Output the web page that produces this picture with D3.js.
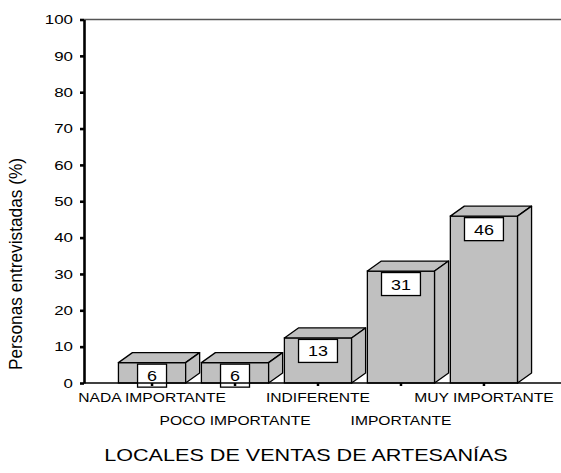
<!DOCTYPE html>
<html><head><meta charset="utf-8">
<script src="https://cdn.jsdelivr.net/npm/d3@7"></script>
<style>
body{margin:0;background:#fff}
svg{display:block}
text{font-family:"Liberation Sans",Arial,sans-serif;fill:#000}
</style>
</head><body>
<svg id="chart" width="561" height="473"></svg>
<script>
// ---- data ----
const categories = ["NADA IMPORTANTE", "POCO IMPORTANTE", "INDIFERENTE", "IMPORTANTE", "MUY IMPORTANTE"];
const values = [5.6, 5.6, 12.4, 30.8, 45.9];
const valueLabels = ["6", "6", "13", "31", "46"];
const yTicks = [0, 10, 20, 30, 40, 50, 60, 70, 80, 90, 100];
const yLabel = "Personas entrevistadas (%)";
const xTitle = "LOCALES DE VENTAS DE ARTESANÍAS";

// ---- layout ----
const W = 561, H = 473;
const mLeft = 84, mTop = 19.5, mBottom = 383;
const depthX = 14, depthY = 10;
const barFill = "#c0c0c0";

const svg = d3.select("#chart");

const x = d3.scaleBand().domain(categories).range([mLeft, 552]).paddingInner(0.19).paddingOuter(0.415);
const y = d3.scaleLinear().domain([0, 100]).range([mBottom, mTop]);

function stretch(sel, k) {
  sel.each(function () {
    const w = this.getComputedTextLength();
    d3.select(this).attr("textLength", w * k).attr("lengthAdjust", "spacingAndGlyphs");
  });
}

// top frame line
svg.append("line").attr("x1", mLeft).attr("x2", W).attr("y1", y(100)).attr("y2", y(100))
  .attr("stroke", "#555").attr("stroke-width", 1.6);

// bars (3D boxes)
const bars = svg.append("g").selectAll("g").data(categories.map((c, i) => ({c, v: values[i], lab: valueLabels[i]})))
  .join("g");

bars.each(function (d) {
  const g = d3.select(this);
  const x0 = x(d.c), x1 = x0 + x.bandwidth();
  const yt = y(d.v), y0 = y(0);
  g.append("rect").attr("x", x0).attr("y", yt).attr("width", x1 - x0).attr("height", y0 - yt)
    .attr("fill", barFill).attr("stroke", "#000").attr("stroke-width", 1.3);
  g.append("path").attr("d", `M${x0},${yt}L${x0 + depthX},${yt - depthY}L${x1 + depthX},${yt - depthY}L${x1},${yt}Z`)
    .attr("fill", barFill).attr("stroke", "#000").attr("stroke-width", 1.3).attr("stroke-linejoin", "round");
  g.append("path").attr("d", `M${x1},${yt}L${x1 + depthX},${yt - depthY}L${x1 + depthX},${y0 - depthY}L${x1},${y0}Z`)
    .attr("fill", barFill).attr("stroke", "#000").attr("stroke-width", 1.3).attr("stroke-linejoin", "round");
  const cx = x0 + x.bandwidth() / 2;
  const t = g.append("text").attr("font-size", 14).attr("text-anchor", "middle")
    .attr("x", cx).attr("y", yt + 1.5 + 17).text(d.lab);
  const tw = t.node().getComputedTextLength() * 1.28;
  stretch(t, 1.28);
  const bw = tw + 19;
  g.insert("rect", "text").attr("x", cx - bw / 2).attr("y", yt + 1.5).attr("width", bw).attr("height", 23)
    .attr("fill", "#fff").attr("stroke", "#000").attr("stroke-width", 1.3);
});

// bottom axis line
svg.append("line").attr("x1", mLeft).attr("x2", W).attr("y1", y(0)).attr("y2", y(0))
  .attr("stroke", "#000").attr("stroke-width", 1.5);

// x axis ticks + labels
const xAxis = svg.append("g").attr("transform", `translate(0,${y(0)})`)
  .call(d3.axisBottom(x).tickSize(3).tickSizeOuter(0));
xAxis.select(".domain").remove();
xAxis.selectAll(".tick line").attr("stroke", "#000").attr("stroke-width", 2.5);
xAxis.selectAll(".tick text")
  .attr("dy", null)
  .attr("y", (d, i) => i % 2 ? 42 : 18.5)
  .attr("font-size", 13).attr("font-family", null).attr("fill", "#000");
stretch(xAxis.selectAll(".tick text"), 1.2);

// y axis
const yAxis = svg.append("g").attr("transform", `translate(${mLeft},0)`)
  .call(d3.axisLeft(y).tickValues(yTicks).tickSize(4).tickSizeOuter(0).tickPadding(7));
yAxis.select(".domain").attr("stroke", "#000").attr("stroke-width", 2.6);
yAxis.selectAll(".tick line").attr("stroke", "#000").attr("stroke-width", 2.6);
yAxis.selectAll(".tick text").attr("font-size", 13).attr("font-family", null).attr("fill", "#000");
stretch(yAxis.selectAll(".tick text"), 1.3);

// y label
svg.append("text").attr("transform", `translate(21.5,264) rotate(-90)`)
  .attr("text-anchor", "middle").attr("font-size", 17.5)
  .attr("textLength", 212).attr("lengthAdjust", "spacingAndGlyphs").text(yLabel);

// x title
const tt = svg.append("text").attr("x", 306).attr("y", 461).attr("text-anchor", "middle")
  .attr("font-size", 17).text(xTitle);
stretch(tt, 1.27);
</script>
</body></html>
